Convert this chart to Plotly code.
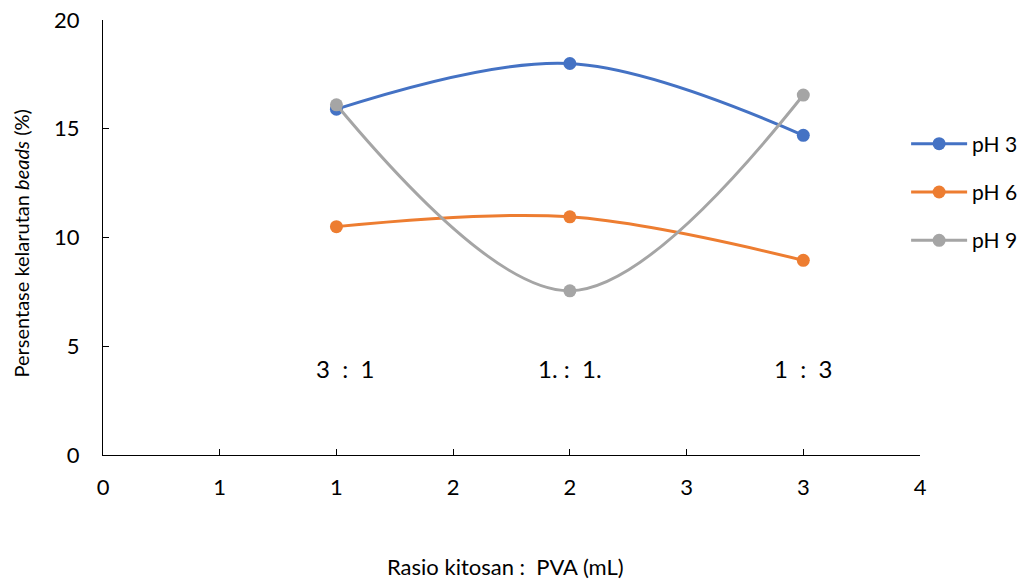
import plotly.graph_objects as go

x_pos = [1, 2, 3]
ph3 = [15.9, 18.0, 14.7]
ph6 = [10.5, 10.95, 8.95]
ph9 = [16.1, 7.55, 16.55]
series_names = ["pH 3", "pH 6", "pH 9"]
colors = ["#4472C4", "#ED7D31", "#A5A5A5"]
ratio_labels = ["3\u00a0\u00a0:\u00a0\u00a01", "1.\u00a0:\u00a0\u00a01.", "1\u00a0\u00a0:\u00a0\u00a03"]
ratio_shift = [9, 0, 0]
ratio_y = 4.0
x_tickvals = [0, 0.5, 1, 1.5, 2, 2.5, 3, 3.5]
x_ticktext = ["0", "1", "1", "2", "2", "3", "3", "4"]

FONT = "Lato"

fig = go.Figure()
for i, (name, vals, c) in enumerate(zip(series_names, [ph3, ph6, ph9], colors)):
    fig.add_trace(go.Scatter(
        x=x_pos, y=vals, name=name, mode="lines+markers", legendgroup=f"g{i}",
        line=dict(color=c, width=3, shape="spline", smoothing=1),
        marker=dict(color=c, size=13),
    ))

for xv, t, s in zip(x_pos, ratio_labels, ratio_shift):
    fig.add_annotation(x=xv, y=ratio_y, text=t, showarrow=False, xshift=s,
                       xref="x", yref="y", font=dict(size=24, color="#000000", family=FONT))

fig.add_annotation(xref="paper", yref="paper", x=0.493, y=0, yshift=-111,
                   text="Rasio kitosan :\u00a0\u00a0PVA (mL)", showarrow=False,
                   xanchor="center", yanchor="middle",
                   font=dict(size=22, color="#000000", family=FONT))
fig.add_annotation(xref="paper", yref="paper", x=0, xshift=-83, y=0.5, yshift=-6,
                   text="Persentase kelarutan <i>beads</i> (%)", showarrow=False,
                   textangle=-90, xanchor="center", yanchor="middle",
                   font=dict(size=20, color="#000000", family=FONT))

fig.update_layout(
    template="none",
    width=1018, height=579,
    margin=dict(l=103, r=98, t=20, b=124, autoexpand=False),
    paper_bgcolor="white", plot_bgcolor="white",
    font=dict(family=FONT, size=22, color="#000000"),
    showlegend=True,
    legend=dict(x=0.983, y=0.762, xanchor="left", yanchor="top", itemwidth=56,
                tracegroupgap=18,
                font=dict(size=21, family=FONT), bgcolor="rgba(0,0,0,0)"),
    xaxis=dict(range=[0, 3.5], tickvals=x_tickvals, ticktext=x_ticktext,
               showgrid=False, zeroline=False, showline=True, linecolor="black",
               linewidth=1.3, ticks="inside", ticklen=6, tickcolor="black",
               automargin=False, ticklabelstandoff=12,
               tickfont=dict(size=22, family=FONT)),
    yaxis=dict(range=[0, 20], dtick=5, showgrid=False, zeroline=False,
               showline=True, linecolor="black", linewidth=1.3, ticks="inside",
               ticklen=6, tickcolor="black", automargin=False, ticklabelstandoff=18,
               tickfont=dict(size=22, family=FONT)),
)

fig.write_html("out.html")
